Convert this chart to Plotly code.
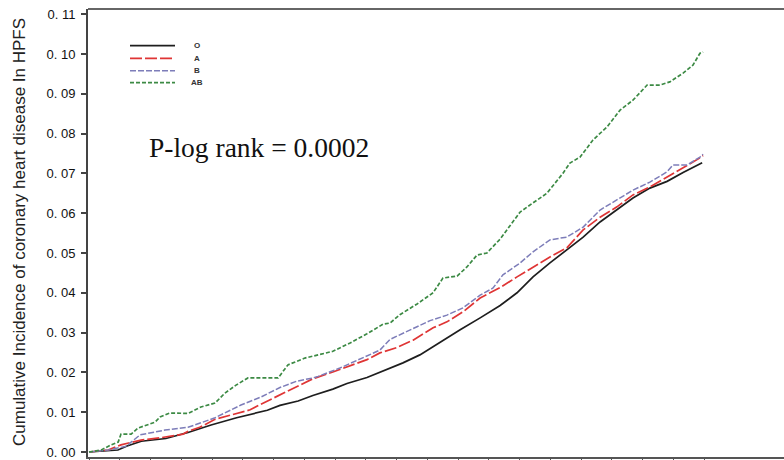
import plotly.graph_objects as go

# ---- data (years of follow-up vs cumulative incidence) ----
group_names = ["O", "A", "B", "AB"]

o_x = [0, 0.6, 0.94, 1.24, 1.7, 2.5, 3.22, 3.97, 4.8, 5.8, 6.21, 6.8, 7.28, 7.93, 8.39, 9.04, 9.46, 10.21, 10.76, 11.41,
       12.07, 12.72, 13.37, 13.92, 14.44, 14.99, 15.54, 16.07, 16.62, 17.17, 17.69, 18.24, 18.80, 19.32, 19.94]
o_y = [0, .0003, .0005, .0015, .0027, .0034, .0049, .0068, .0086, .0105, .0117, .0128, .0142, .0158, .0172, .0187, .0200, .0224, .0244, .0276,
       .0307, .0337, .0368, .0400, .0440, .0475, .0508, .0540, .0578, .0608, .0638, .0663, .0680, .0702, .0727]

a_x = [0, 0.62, 1.04, 1.69, 2.34, 3.06, 3.22, 3.6, 4.1, 4.85, 5.24, 5.59, 6.21, 6.76, 7.28, 7.93, 8.39, 9.04, 9.46, 10.0,
       10.54, 11.19, 11.64, 12.16, 12.72, 13.37, 13.92, 14.44, 14.99, 15.54, 16.07, 16.62, 17.17, 17.69, 18.24, 18.80, 19.32, 19.87, 19.97]
a_y = [0, .0005, .0018, .003, .0036, .0045, .0052, .0062, .0082, .0098, .0106, .012, .0143, .0165, .0184, .0201, .0214, .0232, .0249, .0262,
       .0281, .0312, .0327, .0352, .0387, .0413, .0440, .0465, .0490, .0513, .0558, .0590, .0616, .0646, .0666, .0691, .0714, .0739, .0745]

b_x = [0, 0.62, 1.24, 1.37, 1.66, 2.47, 3.22, 4.1, 4.94, 5.59, 6.21, 6.76, 7.28, 7.45, 8.16, 8.91, 9.46, 9.79, 10.54, 11.09,
       11.64, 12.16, 12.72, 13.14, 13.46, 14.02, 14.44, 14.99, 15.54, 16.07, 16.62, 17.17, 17.69, 18.24, 18.80, 18.99, 19.45, 19.87, 19.97]
b_y = [0, .0005, .0015, .0025, .0043, .0055, .0062, .0086, .0118, .0138, .0162, .0178, .0186, .019, .0211, .0236, .0256, .0283, .0310, .0330,
       .0344, .0362, .0394, .0412, .0445, .0475, .0503, .0533, .0540, .0565, .0608, .0633, .0658, .0678, .0704, .0721, .0721, .0741, .0748]

ab_x = [0, 0.4, 0.72, 0.95, 1.04, 1.37, 1.59, 2.15, 2.31, 2.63, 3.22, 3.64, 4.10, 4.42, 4.78, 5.17, 6.15, 6.47, 7.02, 7.45,
        7.93, 8.49, 9.04, 9.56, 9.79, 10.11, 10.67, 11.19, 11.51, 11.97, 12.29, 12.62, 12.94, 13.37, 13.79, 14.02, 14.44, 14.89, 15.41, 15.64,
        15.97, 16.39, 16.85, 17.27, 17.69, 18.15, 18.57, 18.89, 19.32, 19.64, 19.87, 19.97]
ab_y = [0, .0005, .0018, .0025, .0045, .0045, .006, .0075, .0088, .0098, .0097, .0113, .0123, .0148, .0168, .0186, .0186, .0219, .0236, .0244,
        .0253, .0274, .0297, .0321, .0324, .0345, .0372, .0400, .0437, .0442, .0465, .0495, .0500, .0535, .0578, .0603, .0626, .0650, .0700, .0726,
        .0741, .0784, .0817, .0859, .0884, .0922, .0922, .0930, .0952, .0972, .1002, .1005]

x_ticks = list(range(0, 21))
y_ticks = [0.00, 0.01, 0.02, 0.03, 0.04, 0.05, 0.06, 0.07, 0.08, 0.09, 0.10, 0.11]
y_tick_text = ["0. 00", "0. 01", "0. 02", "0. 03", "0. 04", "0. 05", "0. 06", "0. 07", "0. 08", "0. 09", "0. 10", "0. 11"]

y_title = "Cumulative Incidence of coronary heart disease In HPFS"
p_text = "P-log rank = 0.0002"

# ---- styles ----
series = [
    (o_x, o_y, "#1e1e1e", "solid", 1.7),
    (a_x, a_y, "#df3535", "12px,3px", 1.7),
    (b_x, b_y, "#7d7db9", "6px,2px", 1.5),
    (ab_x, ab_y, "#3c8a44", "4px,2px", 1.7),
]

fig = go.Figure()
for name, (xs, ys, col, dash, w) in zip(group_names, series):
    fig.add_trace(go.Scatter(x=xs, y=ys, mode="lines", name=name,
                             line=dict(color=col, dash=dash, width=w, shape="linear"),
                             showlegend=False))

W, H = 784, 460
ML, MR, MT, MB = 88, 0, 9, 3
pw, ph = W - ML - MR, H - MT - MB


def px_x(p):
    return (p - ML) / pw


def px_y(p):
    return (H - MB - p) / ph


# custom legend (compact, like the original)
leg_rows = [45.7, 58.3, 70.7, 82.7]
for name, (xs, ys, col, dash, w), yy in zip(group_names, series, leg_rows):
    fig.add_shape(type="line", xref="paper", yref="paper",
                  x0=px_x(130), x1=px_x(175), y0=px_y(yy), y1=px_y(yy),
                  line=dict(color=col, dash=dash, width=w))
    fig.add_annotation(xref="paper", yref="paper", x=px_x(197), y=px_y(yy),
                       text="<b>" + name + "</b>", showarrow=False,
                       xanchor="center", yanchor="middle",
                       font=dict(family="Liberation Sans Narrow, Liberation Sans, Arial", size=8, color="#333"))

# top frame line
fig.add_shape(type="line", xref="paper", yref="paper", x0=0, x1=1, y0=1, y1=1,
              line=dict(color="#666", width=2))

fig.add_annotation(xref="paper", yref="paper", x=px_x(259), y=px_y(147),
                   text=p_text, showarrow=False, xanchor="center", yanchor="middle",
                   font=dict(family="Liberation Serif, Times New Roman, serif", size=27.5, color="#111"))

fig.add_annotation(xref="paper", yref="paper", x=px_x(20), y=px_y(232),
                   text=y_title, showarrow=False, textangle=-90,
                   xanchor="center", yanchor="middle",
                   font=dict(family="Liberation Sans, Arial, sans-serif", size=17, color="#222"))

x_lo = -1 / 30.75
x_hi = x_lo + pw / 30.75
y_per_px = 0.01 / 39.8
y_lo = -5 * y_per_px
y_hi = y_lo + ph * y_per_px

fig.update_layout(
    width=W, height=H,
    margin=dict(l=ML, r=MR, t=MT, b=MB, pad=0),
    paper_bgcolor="white", plot_bgcolor="white",
    xaxis=dict(range=[x_lo, x_hi], tickvals=x_ticks, showticklabels=False,
               ticks="outside", ticklen=4, tickwidth=1.2, tickcolor="#555",
               showline=True, linecolor="#555", linewidth=2,
               showgrid=False, zeroline=False),
    yaxis=dict(range=[y_lo, y_hi], tickvals=y_ticks, ticktext=y_tick_text,
               ticks="outside", ticklen=5, tickwidth=1.5, tickcolor="#444",
               ticklabelstandoff=3,
               tickfont=dict(family="Liberation Sans, Arial, sans-serif", size=13, color="#111"),
               showline=True, linecolor="#444", linewidth=2,
               showgrid=False, zeroline=False),
    showlegend=False,
)

fig.write_html("out.html")
